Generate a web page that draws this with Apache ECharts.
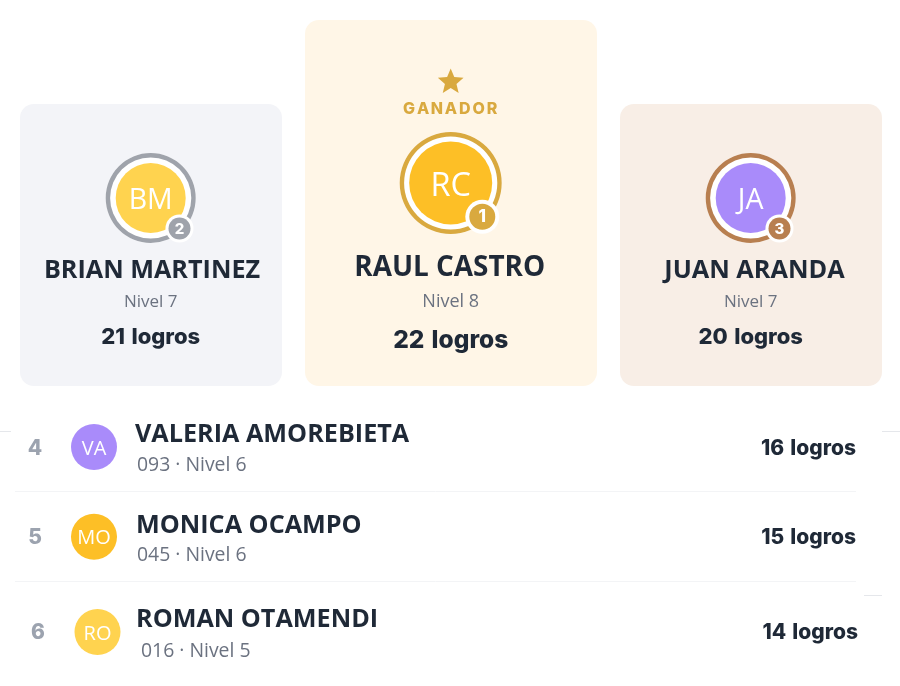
<!DOCTYPE html>
<html>
<head>
<meta charset="utf-8">
<style>
  html, body { margin: 0; padding: 0; background: #fff; }
  #main { width: 900px; height: 686px; }
</style>
<script src="https://cdn.jsdelivr.net/npm/echarts@6/dist/echarts.min.js"></script>
</head>
<body>
<div id="main"></div>
<script>
// datos del ranking
var podioNombres = ['BRIAN MARTINEZ', 'RAUL CASTRO', 'JUAN ARANDA'];
var podioIniciales = ['BM', 'RC', 'JA'];
var podioPuesto = [2, 1, 3];
var podioNivel = [7, 8, 7];
var podioLogros = [21, 22, 20];

var listaPuesto = [4, 5, 6];
var listaNombres = ['VALERIA AMOREBIETA', 'MONICA OCAMPO', 'ROMAN OTAMENDI'];
var listaIniciales = ['VA', 'MO', 'RO'];
var listaCodigo = ['093', '045', '016'];
var listaNivel = [6, 6, 5];
var listaLogros = [16, 15, 14];

var SANS = '"Open Sans", "Noto Sans", sans-serif';
var INTER = 'Inter, Roboto, sans-serif';
var OSCURO = '#1f2937';
var GRIS = '#6b7280';
var LOGROS = ' \u200Alogros'; // espacio un poco mas ancho, como el original

// posiciones y estilos de las tarjetas
var tarjetas = [
    { x: 20, y: 104, w: 262, h: 282, bg: '#f3f4f8', ring: '#9fa3ab', fill: '#ffd34f', cx: 150.7, cy: 198, r: 45, r0: 35, iniSize: 28.5, nameX: 152, nameSize: 25.2, nameY: 270.5, nivelSize: 17, logrosSize: 22, logrosY: 337.5, badgeR: 14, badgeIn: 11 },
    { x: 305, y: 20, w: 292, h: 366, bg: '#fff6e7', ring: '#d9a93f', fill: '#fdbf26', cx: 450.7, cy: 183, r: 51, r0: 41.5, iniSize: 32.5, nameX: 449.7, nameSize: 27.9, nameY: 268, nivelSize: 18, logrosSize: 24.5, logrosY: 341, badgeR: 17, badgeIn: 13 },
    { x: 620, y: 104, w: 262, h: 282, bg: '#f8eee6', ring: '#b87f50', fill: '#a98bfa', cx: 750.7, cy: 198, r: 45, r0: 35, iniSize: 28.5, nameX: 754.5, nameSize: 25.3, nameY: 270.5, nivelSize: 17, logrosSize: 22, logrosY: 337.5, badgeR: 14, badgeIn: 11 }
];
var filas = [
    { rankX: 35, y: 449, ax: 94, ay: 447, fill: '#a98bfa', nameX: 135, nameY: 435, subX: 137, subY: 465.5, right: 856, logY: 449 },
    { rankX: 35, y: 538, ax: 94, ay: 536.7, fill: '#fdbf26', nameX: 136, nameY: 526, subX: 137, subY: 555, right: 856, logY: 538 },
    { rankX: 38, y: 633, ax: 97.5, ay: 632, fill: '#ffd34f', nameX: 136, nameY: 620, subX: 141, subY: 651, right: 858, logY: 633 }
];
var lineas = [
    [15, 491.5, 856, '#f3f4f6'],
    [15, 581.5, 856, '#f3f4f6'],
    [0, 431.5, 11, '#e5e7eb'],
    [882, 431.5, 900, '#e5e7eb'],
    [864, 595.5, 882, '#e5e7eb']
];

function texto(str, x, y, size, weight, color, family, align) {
    return {
        type: 'text',
        style: {
            text: str, x: x, y: y,
            font: weight + ' ' + size + 'px ' + family,
            fill: color,
            align: align || 'center',
            verticalAlign: 'middle'
        }
    };
}
function circulo(x, y, r, color) {
    return { type: 'circle', shape: { cx: x, cy: y, r: r }, style: { fill: color } };
}
function estrella(cx, cy, r) {
    var pts = [];
    for (var i = 0; i < 10; i++) {
        var rad = i % 2 ? r * 0.45 : r;
        var a = -Math.PI / 2 + i * Math.PI / 5;
        pts.push([cx + rad * Math.cos(a), cy + rad * Math.sin(a)]);
    }
    return { type: 'polygon', shape: { points: pts }, style: { fill: '#d9a93f' } };
}
// zrender no tiene letter-spacing: se coloca letra por letra
function espaciado(str, cx, y, size, weight, color, family, extra) {
    var ctx = document.createElement('canvas').getContext('2d');
    var font = weight + ' ' + size + 'px ' + family;
    ctx.font = font;
    var total = ctx.measureText(str).width + extra * (str.length - 1);
    var x = cx - total / 2;
    var out = [];
    for (var i = 0; i < str.length; i++) {
        out.push(texto(str[i], x, y, size, weight, color, family, 'left'));
        x = cx - total / 2 + ctx.measureText(str.slice(0, i + 1)).width + extra * (i + 1);
    }
    return out;
}

var elementos = [];

tarjetas.forEach(function (t, i) {
    elementos.push({
        type: 'rect',
        shape: { x: t.x, y: t.y, width: t.w, height: t.h, r: 14 },
        style: { fill: t.bg }
    });
    // avatar con anillo y medalla
    elementos.push(circulo(t.cx, t.cy, t.r, '#fff'));
    elementos.push({
        type: 'ring',
        shape: { cx: t.cx, cy: t.cy, r: t.r, r0: t.r - 4.4 },
        style: { fill: t.ring }
    });
    elementos.push(circulo(t.cx, t.cy, t.r0, t.fill));
    elementos.push(texto(podioIniciales[i], t.cx, t.cy + (i === 1 ? 4 : 3), t.iniSize, '500', '#fff', SANS));
    var bx = t.cx + (i === 1 ? 31.6 : 28.8);
    var by = t.cy + (i === 1 ? 33.7 : 30.5);
    elementos.push(circulo(bx, by, t.badgeR, '#fff'));
    elementos.push(circulo(bx, by, t.badgeIn, t.ring));
    elementos.push(texto(String(podioPuesto[i]), bx, by + 0.5, i === 1 ? 17 : 15, '800', '#fff', INTER));

    elementos.push(texto(podioNombres[i], t.nameX, t.nameY, t.nameSize, 'bold', OSCURO, SANS));
    elementos.push(texto('Nivel ' + podioNivel[i], t.cx, 302, t.nivelSize, 'normal', GRIS, SANS));
    elementos.push(texto(podioLogros[i] + LOGROS, t.cx, t.logrosY, t.logrosSize, '800', OSCURO, INTER));
});

// encabezado del ganador
elementos.push(estrella(450.7, 82, 13.5));
elementos = elementos.concat(espaciado('GANADOR', 450.2, 109, 16, '800', '#d9a93f', INTER, 1.9));

lineas.forEach(function (l) {
    elementos.push({
        type: 'line',
        shape: { x1: l[0], y1: l[1], x2: l[2], y2: l[1] },
        style: { stroke: l[3], lineWidth: 1 }
    });
});

filas.forEach(function (f, i) {
    elementos.push(texto(String(listaPuesto[i]), f.rankX, f.y, 21, '800', '#9ca3af', INTER));
    elementos.push(circulo(f.ax, f.ay, 23, f.fill));
    elementos.push(texto(listaIniciales[i], f.ax, f.ay + 2, 20, '500', '#fff', SANS));
    elementos.push(texto(listaNombres[i], f.nameX, f.nameY, 25.2, 'bold', OSCURO, SANS, 'left'));
    elementos.push(texto(listaCodigo[i] + ' · Nivel ' + listaNivel[i], f.subX, f.subY, 19.4, 'normal', GRIS, SANS, 'left'));
    elementos.push(texto(listaLogros[i] + LOGROS, f.right, f.logY, 21, '800', OSCURO, INTER, 'right'));
});

var chart = echarts.init(document.getElementById('main'), null, { renderer: 'canvas' });
chart.setOption({
    animation: false,
    backgroundColor: '#fff',
    graphic: { elements: elementos }
});
window.addEventListener('resize', function () {
    chart.resize();
});
</script>
</body>
</html>
